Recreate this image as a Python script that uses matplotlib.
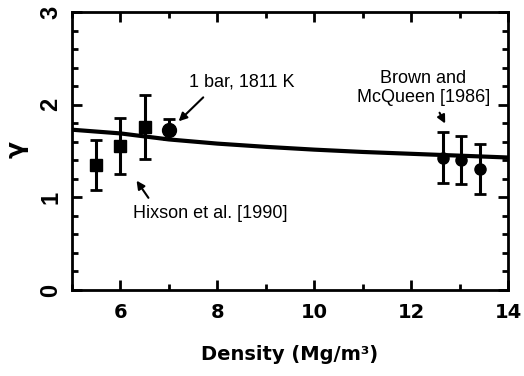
import matplotlib
matplotlib.use('Agg')
import matplotlib.pyplot as plt
from matplotlib.ticker import MultipleLocator
import numpy as np

plt.rcParams['font.family'] = ['Liberation Sans', 'DejaVu Sans']

# Hixson et al. [1990] (squares)
hix_rho = [5.5, 6.0, 6.5]
hix_gam = [1.35, 1.55, 1.755]
hix_lo = [0.27, 0.30, 0.345]
hix_hi = [0.27, 0.31, 0.345]

# 1 bar, 1811 K (circle)
bar_rho = [7.0]
bar_gam = [1.73]
bar_lo = [0.10]
bar_hi = [0.115]

# Brown and McQueen [1986] (circles)
bm_rho = [12.65, 13.02, 13.43]
bm_gam = [1.42, 1.40, 1.305]
bm_lo = [0.26, 0.26, 0.265]
bm_hi = [0.28, 0.265, 0.27]

# model curve
curve_rho = [5, 6, 7, 8, 9, 10, 11, 12, 13, 14]
curve_gam = [1.73, 1.69, 1.625, 1.58, 1.545, 1.515, 1.49, 1.47, 1.45, 1.43]

fig = plt.figure(figsize=(5.24, 3.76), dpi=100)
ax = fig.add_axes([0.1374, 0.2287, 0.8321, 0.7393])

ax.plot(curve_rho, curve_gam, color='black', lw=3, zorder=2)

ekw = dict(fmt='none', ecolor='black', elinewidth=2.2, capsize=4, capthick=2, zorder=3)
ax.errorbar(hix_rho, hix_gam, yerr=[hix_lo, hix_hi], **ekw)
ax.errorbar(bar_rho, bar_gam, yerr=[bar_lo, bar_hi], **ekw)
ax.errorbar(bm_rho, bm_gam, yerr=[bm_lo, bm_hi], **ekw)
ax.plot(hix_rho, hix_gam, 's', color='black', ms=8, zorder=4)
ax.plot(bar_rho, bar_gam, 'o', color='black', ms=10, zorder=4)
ax.plot(bm_rho, bm_gam, 'o', color='black', ms=8, zorder=4)

akw = dict(arrowstyle='-|>', color='black', lw=1.5, mutation_scale=12)
ax.text(8.5, 2.25, '1 bar, 1811 K', ha='center', va='center', fontsize=13)
ax.annotate('', xy=(7.16, 1.80), xytext=(7.75, 2.10), arrowprops=akw)
ax.text(12.25, 2.18, 'Brown and\nMcQueen [1986]', ha='center', va='center',
        fontsize=13, linespacing=1.15)
ax.annotate('', xy=(12.73, 1.77), xytext=(12.56, 1.94), arrowprops=akw)
ax.text(7.85, 0.83, 'Hixson et al. [1990]', ha='center', va='center', fontsize=13)
ax.annotate('', xy=(6.30, 1.205), xytext=(6.61, 0.97), arrowprops=akw)

ax.set_xlim(5, 14)
ax.set_ylim(0, 3)
ax.xaxis.set_major_locator(MultipleLocator(2))
ax.xaxis.set_minor_locator(MultipleLocator(1))
ax.yaxis.set_major_locator(MultipleLocator(1))
ax.yaxis.set_minor_locator(MultipleLocator(0.2))
ax.tick_params(which='both', direction='in', top=True, right=True, width=2)
ax.tick_params(which='major', length=7)
ax.tick_params(which='minor', length=4)
ax.tick_params(axis='x', pad=9)
ax.tick_params(axis='y', pad=7, labelrotation=90)
for lab in ax.get_xticklabels():
    lab.set_fontfamily('DejaVu Sans')
    lab.set_fontweight('bold')
    lab.set_fontsize(14)
for lab in ax.get_yticklabels():
    lab.set_fontweight('bold')
    lab.set_fontsize(17)
    lab.set_va('center')
for s in ax.spines.values():
    s.set_linewidth(2)

ax.set_xlabel('Density (Mg/m³)', fontsize=14, fontweight='bold',
              family='DejaVu Sans', labelpad=17)
ax.set_ylabel('γ', fontsize=18, fontweight='bold', family='DejaVu Sans',
              va='center', ha='center')
ax.yaxis.set_label_coords(-0.126, 0.504)

fig.savefig('out.png', dpi=100)
